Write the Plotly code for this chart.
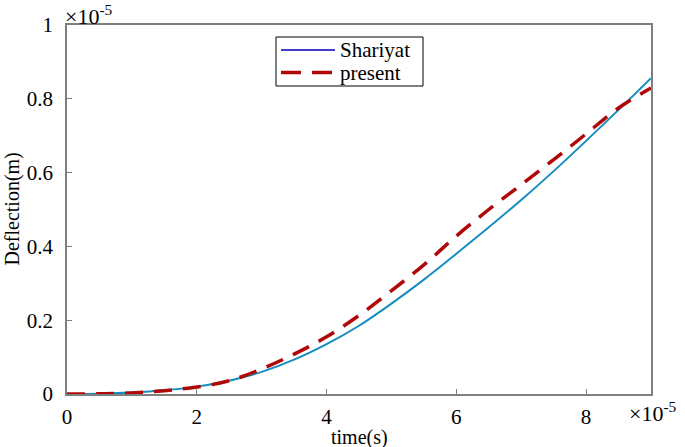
import plotly.graph_objects as go

# time in units of 1e-5 s, deflection in units of 1e-5 m
time_vals = [0, 0.5, 1, 1.5, 2, 2.5, 3, 3.5, 4, 4.5, 5, 5.5, 6, 6.5, 7, 7.5, 8, 8.5, 9]
shariyat = [0, 0.001, 0.004, 0.010, 0.020, 0.036, 0.060, 0.093, 0.135, 0.185, 0.245,
            0.310, 0.380, 0.452, 0.526, 0.604, 0.686, 0.770, 0.856]
present = [0, 0.0005, 0.003, 0.009, 0.019, 0.036, 0.068, 0.108, 0.155, 0.213, 0.280,
           0.350, 0.428, 0.500, 0.567, 0.635, 0.705, 0.775, 0.829]
series_names = ["Shariyat", "present"]

x_ticks = [0, 2, 4, 6, 8]
y_ticks = [0, 0.2, 0.4, 0.6, 0.8, 1]

FONT = "Liberation Serif"
W, H = 685, 447
ML, MR, MT, MB = 67, 34, 25, 53
PW, PH = W - ML - MR, H - MT - MB


def px2paper(px, py):
    return (px - ML) / PW, (H - MB - py) / PH


fig = go.Figure()
fig.add_trace(go.Scatter(x=time_vals, y=shariyat, mode="lines", name=series_names[0],
                         line=dict(color="#168dbf", width=2, shape="spline"),
                         showlegend=False))
fig.add_trace(go.Scatter(x=time_vals, y=present, mode="lines", name=series_names[1],
                         line=dict(color="#b00808", width=3.5, dash="18px,11px", shape="spline"),
                         showlegend=False))

axis_common = dict(showgrid=False, zeroline=False, showline=True, mirror=True,
                   linecolor="#7f7f7f", linewidth=1.5, ticks="inside", ticklen=5,
                   tickcolor="#7f7f7f", automargin=False,
                   tickfont=dict(family=FONT, size=21, color="black"))

fig.update_xaxes(range=[0, 9], tickvals=x_ticks, ticktext=[str(v) for v in x_ticks],
                 ticklabelstandoff=3, **axis_common)
fig.update_yaxes(range=[0, 1], tickvals=y_ticks, ticktext=["0", "0.2", "0.4", "0.6", "0.8", "1"],
                 ticklabelstandoff=8, **axis_common)

title_font = dict(family=FONT, size=20, color="black")
fig.add_annotation(x=0.5, y=0, xref="paper", yref="paper", xanchor="center", yanchor="middle",
                   text="time(s)", showarrow=False, font=title_font, yshift=-43)
fig.add_annotation(x=0, y=0.5, xref="paper", yref="paper", xanchor="center", yanchor="middle",
                   text="Deflection(m)", textangle=-90, showarrow=False, font=title_font,
                   xshift=-55)

fig.add_annotation(x=0, y=1, xref="paper", yref="paper", xanchor="left", yanchor="bottom",
                   text="×10<sup>-5</sup>", showarrow=False,
                   font=dict(family=FONT, size=22, color="black"), xshift=-4, yshift=-6)
fig.add_annotation(x=1, y=0, xref="paper", yref="paper", xanchor="left", yanchor="top",
                   text="×10<sup>-5</sup>", showarrow=False,
                   font=dict(family=FONT, size=22, color="black"), xshift=-24, yshift=-2)

# legend drawn by hand to match the compact MATLAB legend box
bx0, by0 = px2paper(276, 86)
bx1, by1 = px2paper(423, 37)
fig.add_shape(type="rect", xref="paper", yref="paper", x0=bx0, y0=by0, x1=bx1, y1=by1,
              line=dict(color="black", width=1), fillcolor="white", layer="above")
lx0, ly0 = px2paper(281, 50)
lx1, _ = px2paper(335, 50)
fig.add_shape(type="line", xref="paper", yref="paper", x0=lx0, y0=ly0, x1=lx1, y1=ly0,
              line=dict(color="#3f3fc8", width=2), layer="above")
dx0, dy0 = px2paper(281, 72.5)
dx1, _ = px2paper(334, 72.5)
fig.add_shape(type="line", xref="paper", yref="paper", x0=dx0, y0=dy0, x1=dx1, y1=dy0,
              line=dict(color="#b00808", width=3.5, dash="20px,11px"), layer="above")
tx, _ = px2paper(338, 0)
fig.add_annotation(x=tx, y=ly0, xref="paper", yref="paper", xanchor="left", yanchor="middle",
                   text=series_names[0], showarrow=False,
                   font=dict(family=FONT, size=21, color="black"))
fig.add_annotation(x=tx, y=dy0, xref="paper", yref="paper", xanchor="left", yanchor="middle",
                   text=series_names[1], showarrow=False,
                   font=dict(family=FONT, size=21, color="black"))

fig.update_layout(
    width=W, height=H,
    margin=dict(l=ML, r=MR, t=MT, b=MB),
    plot_bgcolor="white", paper_bgcolor="white",
    showlegend=False,
)

# remove the page's default 8px body margin so the figure sits at the window's corner
fig.write_html("out.html", post_script="document.body.style.margin='0';",
               config={"displayModeBar": False})
